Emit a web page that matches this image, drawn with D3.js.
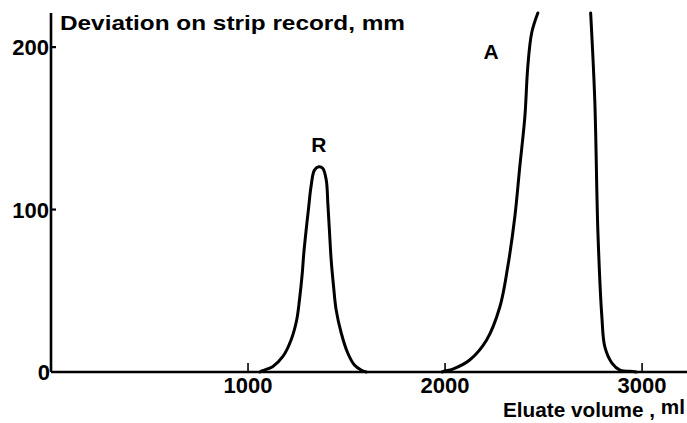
<!DOCTYPE html>
<html>
<head>
<meta charset="utf-8">
<script src="https://cdn.jsdelivr.net/npm/d3@7"></script>
<style>
  body { margin: 0; background: #fff; }
  text { font-family: "Liberation Sans", Arial, sans-serif; font-weight: bold; fill: #000; }
</style>
</head>
<body>
<script>
// axis ticks
var xTicks = [1000, 2000, 3000]
var yTicks = [0, 100, 200]

// peak R (eluate volume ml, deviation mm)
var peakR_ml = [1060, 1074, 1125, 1176, 1219, 1247, 1261, 1275, 1283, 1295, 1308, 1320, 1337, 1359, 1379, 1397, 1405, 1413, 1422, 1434, 1447, 1473, 1506, 1540, 1574, 1600]
var peakR_mm = [0, 0.8, 3.3, 9.4, 19.9, 32, 44.3, 60.4, 73, 87.4, 101.7, 114.3, 124.3, 126.3, 125.4, 118.2, 104, 87.4, 69, 52.8, 38.4, 24, 11.7, 4.3, 1.2, 0]

// peak A, off scale at the top: rising and falling flanks
var peakA_rise_ml = [1985, 1998, 2039, 2125, 2211, 2278, 2318, 2354, 2379, 2405, 2420, 2440, 2471]
var peakA_rise_mm = [0, 0.6, 1.8, 7.4, 19.7, 40, 64.6, 95.4, 126, 157, 188, 209, 221]
var peakA_fall_ml = [2739, 2760, 2776, 2796, 2811, 2847, 2888, 2954, 2970]
var peakA_fall_mm = [221, 167, 85.5, 33.8, 15.4, 5.5, 1.2, 0.3, 0]

var options = {
  width: 687,
  height: 423,
  left: 51,
  right: 687,
  top: 13,
  bottom: 372
}

var svg = d3.select('body').append('svg')
  .attr('width', options.width)
  .attr('height', options.height)

var x = d3.scaleLinear().domain([0, 3228]).range([options.left, options.right])
var y = d3.scaleLinear().domain([0, 221]).range([options.bottom, options.top])

// axis lines
svg.append('line')
  .attr('x1', x(0)).attr('x2', x(3228))
  .attr('y1', y(0)).attr('y2', y(0))
  .attr('stroke', '#000').attr('stroke-width', 2.6)
svg.append('line')
  .attr('x1', x(0)).attr('x2', x(0))
  .attr('y1', y(221)).attr('y2', y(0))
  .attr('stroke', '#000').attr('stroke-width', 2.6)

// x ticks point up into the plot
svg.selectAll('line.xtick').data(xTicks).enter().append('line')
  .attr('class', 'xtick')
  .attr('x1', function(d) { return x(d) }).attr('x2', function(d) { return x(d) })
  .attr('y1', y(0)).attr('y2', y(0) - 9)
  .attr('stroke', '#000').attr('stroke-width', 1.6)
svg.selectAll('text.xlab').data(xTicks).enter().append('text')
  .attr('class', 'xlab')
  .attr('x', function(d) { return x(d) })
  .attr('y', y(0) + 21)
  .attr('text-anchor', 'middle')
  .style('font-size', '22px')
  .text(function(d) { return d })

// y ticks point right into the plot
svg.selectAll('line.ytick').data(yTicks.slice(1)).enter().append('line')
  .attr('class', 'ytick')
  .attr('x1', x(0)).attr('x2', x(0) + 5)
  .attr('y1', function(d) { return y(d) }).attr('y2', function(d) { return y(d) })
  .attr('stroke', '#000').attr('stroke-width', 2.2)
svg.selectAll('text.ylab').data(yTicks).enter().append('text')
  .attr('class', 'ylab')
  .attr('x', function(d) { return d === 0 ? x(0) - 1 : x(0) - 2 })
  .attr('y', function(d) { return y(d) + 8 })
  .attr('text-anchor', 'end')
  .style('font-size', '22px')
  .text(function(d) { return d })

// curves
var line = d3.line()
  .x(function(d) { return x(d[0]) })
  .y(function(d) { return y(d[1]) })
  .curve(d3.curveCatmullRom.alpha(0.5))

function pairs(xs, ys) {
  return xs.map(function(v, i) { return [v, ys[i]] })
}

svg.selectAll('path.peak')
  .data([pairs(peakR_ml, peakR_mm), pairs(peakA_rise_ml, peakA_rise_mm), pairs(peakA_fall_ml, peakA_fall_mm)])
  .enter().append('path')
  .attr('class', 'peak')
  .attr('d', line)
  .attr('fill', 'none')
  .attr('stroke', '#000')
  .attr('stroke-width', 3)
  .attr('stroke-linecap', 'round')

// labels
svg.append('text')
  .attr('x', 60).attr('y', 30)
  .style('font-size', '21px')
  .attr('textLength', 345).attr('lengthAdjust', 'spacingAndGlyphs')
  .text('Deviation on strip record, mm')

var xl = svg.append('text')
  .attr('x', 503).attr('y', 417)
  .style('font-size', '20px')
  .attr('textLength', 182).attr('lengthAdjust', 'spacingAndGlyphs')
xl.append('tspan').text('Eluate volume , ')
xl.append('tspan').attr('dy', -3).text('ml')

svg.append('text')
  .attr('x', x(1359)).attr('y', 152)
  .attr('text-anchor', 'middle')
  .style('font-size', '21px')
  .text('R')

svg.append('text')
  .attr('x', 491).attr('y', 59)
  .attr('text-anchor', 'middle')
  .style('font-size', '21px')
  .text('A')
</script>
</body>
</html>
